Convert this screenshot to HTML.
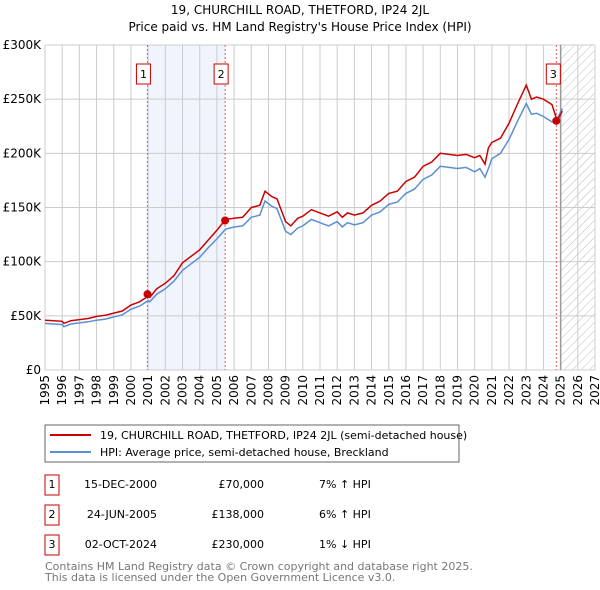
<!DOCTYPE html>
<html><head><meta charset="utf-8"><style>
body{margin:0;background:#fff;font-family:"DejaVu Sans","Liberation Sans",sans-serif;}
svg{display:block}
</style></head><body>
<svg width="600" height="590" viewBox="0 0 600 590" id="c" font-family="DejaVu Sans, Liberation Sans, sans-serif">
<text x="300" y="14" text-anchor="middle" font-size="12">19, CHURCHILL ROAD, THETFORD, IP24 2JL</text>
<text x="300" y="31" text-anchor="middle" font-size="12">Price paid vs. HM Land Registry's House Price Index (HPI)</text>
<g id="plot"></g>
<rect x="45" y="425" width="414" height="37" fill="#fff" stroke="#666"/>
<line x1="50" y1="435" x2="91" y2="435" stroke="#cc0000" stroke-width="2"/>
<text x="100" y="439" font-size="11">19, CHURCHILL ROAD, THETFORD, IP24 2JL (semi-detached house)</text>
<line x1="50" y1="452" x2="91" y2="452" stroke="#5b8fd4" stroke-width="2"/>
<text x="100" y="456" font-size="11">HPI: Average price, semi-detached house, Breckland</text>
<g font-size="11">
<rect x="45" y="475" width="14" height="20" fill="none" stroke="#cc0000"/><text x="52" y="488" text-anchor="middle">1</text>
<text x="157" y="488" text-anchor="end">15-DEC-2000</text><text x="264" y="488" text-anchor="end">£70,000</text><text x="319" y="488">7% ↑ HPI</text>
<rect x="45" y="505" width="14" height="20" fill="none" stroke="#cc0000"/><text x="52" y="518" text-anchor="middle">2</text>
<text x="157" y="518" text-anchor="end">24-JUN-2005</text><text x="264" y="518" text-anchor="end">£138,000</text><text x="319" y="518">6% ↑ HPI</text>
<rect x="45" y="535" width="14" height="20" fill="none" stroke="#cc0000"/><text x="52" y="548" text-anchor="middle">3</text>
<text x="157" y="548" text-anchor="end">02-OCT-2024</text><text x="264" y="548" text-anchor="end">£230,000</text><text x="319" y="548">1% ↓ HPI</text>
</g>
<text x="45" y="570" font-size="11" fill="#777">Contains HM Land Registry data © Crown copyright and database right 2025.</text>
<text x="45" y="581" font-size="11" fill="#777">This data is licensed under the Open Government Licence v3.0.</text>
</svg>
<script>
const years=[1995,1995.5,1996,1996.1,1996.5,1997,1997.5,1998,1998.5,1999,1999.5,2000,2000.5,2001,2001.1,2001.5,2002,2002.5,2003,2003.5,2004,2004.5,2005,2005.5,2006,2006.5,2007,2007.5,2007.8,2008.2,2008.5,2009,2009.3,2009.7,2010,2010.5,2011,2011.5,2012,2012.3,2012.6,2013,2013.5,2014,2014.5,2015,2015.5,2016,2016.5,2017,2017.5,2018,2018.5,2019,2019.5,2020,2020.3,2020.6,2020.8,2021,2021.5,2022,2022.5,2023,2023.3,2023.6,2024,2024.5,2024.8,2025.1];
const hpi=[43,42.5,42,40,42.5,43.5,44.5,46,47,49,51,56,59,64,63,70,75,82,92,98,104,113,121,130,132,133,141,143,156,151,149,128,125,131,133,139,136,133,137,132,136,134,136,143,146,153,155,163,167,176,180,188,187,186,187,183,186,178,186,195,200,213,230,246,236,237,234,229,232,241];
const price=[46,45.5,45,43,45.5,46.5,47.5,49.5,50.5,52.5,54.5,60,63,68,67,75,80,87,99,105,111,120,129,139,140,141,150,152,165,160,158,137,133,140,142,148,145,142,146,141,145,143,145,152,156,163,165,174,178,188,192,200,199,198,199,196,198,190,205,210,214,228,246,263,250,252,250,245,230,239];
const saleYears=[2000.96,2005.48,2024.75];
const salePrices=[70,138,230];
const yTicks=[0,50,100,150,200,250,300];
const yTickLabels=['£0','£50K','£100K','£150K','£200K','£250K','£300K'];
const xTicks=[1995,1996,1997,1998,1999,2000,2001,2002,2003,2004,2005,2006,2007,2008,2009,2010,2011,2012,2013,2014,2015,2016,2017,2018,2019,2020,2021,2022,2023,2024,2025,2026,2027];
const X0=45,X1=595,Y0=370,Y1=45;
const sx=y=>X0+(y-1995)/(2027-1995)*(X1-X0);
const sy=v=>Y0-v/300*(Y0-Y1);
const NS='http://www.w3.org/2000/svg';
const g=document.getElementById('plot');
function mk(t,a,p){const e=document.createElementNS(NS,t);for(const k in a)e.setAttribute(k,a[k]);(p||g).appendChild(e);return e;}
const defs=mk('defs',{});
const pat=mk('pattern',{id:'hatch',width:6,height:6,patternUnits:'userSpaceOnUse',patternTransform:'rotate(45)'},defs);
mk('line',{x1:0,y1:0,x2:0,y2:6,stroke:'#bbb','stroke-width':1},pat);
let r=mk('rect',{x:sx(saleYears[0]),y:Y1,width:sx(saleYears[1])-sx(saleYears[0]),height:Y0-Y1,fill:'#f0f4fc'});


r=mk('rect',{x:sx(2025),y:Y1,width:X1-sx(2025),height:Y0-Y1,fill:'url(#hatch)'});


yTicks.forEach((v,i)=>{
 const l=mk('line',{x1:X0,x2:X1,y1:sy(v),y2:sy(v),stroke:'#ccc'});
 
 
 const t=mk('text',{x:X0-4,y:sy(v)+4,'text-anchor':'end','font-size':12});
 
 
 t.textContent=yTickLabels[i];
});
xTicks.forEach(v=>{
 const l=mk('line',{x1:sx(v),x2:sx(v),y1:Y1,y2:Y0,stroke:'#ccc'});
 
 
 const t=mk('text',{x:0,y:0,'text-anchor':'end','font-size':12,transform:`translate(${sx(v)+4},${Y0+5}) rotate(-90)`});
 
 
 t.textContent=v;
});
let bl=mk('line',{x1:sx(2025),x2:sx(2025),y1:Y1,y2:Y0,stroke:'#999','stroke-width':1.5});


const boxOff=[11,11,10];
saleYears.forEach((y,i)=>{
 const l=mk('line',{x1:sx(y),x2:sx(y),y1:Y1,y2:Y0,stroke:'#e06060','stroke-dasharray':'2,2'});
 
 
 const bx=mk('rect',{x:sx(y)-boxOff[i],y:64,width:14,height:20,fill:'#fff',stroke:'#cc0000'});
 
 
 const t=mk('text',{x:+bx.getAttribute('x')+7,y:78,'text-anchor':'middle','font-size':11});
 
 
 t.textContent=i+1;
});
const pts=a=>a.map((v,i)=>sx(years[i]).toFixed(1)+','+sy(v).toFixed(1)).join(' ');
let p=mk('polyline',{points:pts(hpi),fill:'none',stroke:'#5b8fd4','stroke-width':1.5});


p=mk('polyline',{points:pts(price),fill:'none',stroke:'#cc0000','stroke-width':1.5});


saleYears.forEach((y,i)=>{
 const c=mk('circle',{cx:sx(y),cy:sy(salePrices[i]),r:4,fill:'#cc0000'});
 
 
});
</script>
</body></html>
